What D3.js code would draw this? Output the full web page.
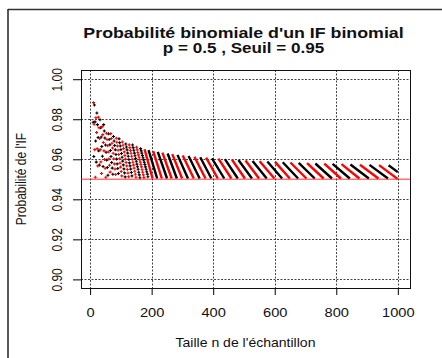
<!DOCTYPE html>
<html>
<head>
<meta charset="utf-8">
<script src="https://cdn.jsdelivr.net/npm/d3@7"></script>
<style>
  body { margin: 0; background: #fff; }
  text { font-family: "Liberation Sans", Arial, sans-serif; fill: #111; }
</style>
</head>
<body>
<svg id="chart"></svg>
<script>
// Data
// odd n (red points), starting at n = 11, step 2
const redFirstN = 11;
const redP = [
  .9883, .9775, .9648, .9510, .9808, .9734, .9653, .9567, .9810, .9758,
  .9704, .9648, .9587, .9529, .9763, .9723, .9684, .9642, .9599, .9555,
  .9510, .9730, .9699, .9668, .9636, .9602, .9570, .9536, .9728, .9704,
  .9680, .9656, .9630, .9603, .9577, .9551, .9524, .9705, .9685, .9666,
  .9645, .9624, .9603, .9581, .9561, .9539, .9517, .9686, .9670, .9654,
  .9637, .9619, .9601, .9584, .9567, .9549, .9531, .9513, .9672, .9658,
  .9644, .9630, .9615, .9600, .9585, .9571, .9556, .9540, .9525, .9510,
  .9660, .9647, .9634, .9622, .9610, .9598, .9586, .9574, .9562, .9548,
  .9535, .9522, .9509
];
// even n (black points), starting at n = 10, step 2
const blackFirstN = 10;
const blackP = [
  .9785, .9614, .9871, .9787, .9691, .9586, .9831, .9773, .9709, .9642,
  .9571, .9798, .9757, .9711, .9664, .9615, .9564, .9773, .9741, .9706,
  .9671, .9635, .9596, .9559, .9520, .9727, .9699, .9672, .9644, .9614,
  .9584, .9556, .9525, .9714, .9691, .9669, .9647, .9624, .9601, .9577,
  .9554, .9529, .9702, .9683, .9666, .9648, .9629, .9610, .9591, .9572,
  .9552, .9532, .9512, .9676, .9661, .9647, .9631, .9615, .9599, .9582,
  .9567, .9551, .9534, .9517, .9671, .9658, .9645, .9631, .9618, .9604,
  .9590, .9576, .9563, .9550, .9535, .9522, .9508, .9653, .9642, .9631,
  .9619, .9608, .9597, .9585, .9574, .9562, .9550, .9538, .9526, .9513
];

// dense part: each colour forms slanted bands (first n, last n, top, bottom)
const redBandStart = [177, 205, 235, 267, 301, 339, 377, 417, 461, 505, 551, 601, 651, 705, 761, 817, 877, 939];
const redBandEnd   = [203, 233, 265, 299, 337, 375, 415, 459, 503, 549, 599, 649, 703, 759, 815, 875, 937, 999];
const redBandTop   = [.9650, .9641, .9633, .9626, .9619, .9613, .9608, .9603, .9598, .9594, .9590, .9587, .9584, .9581, .9578, .9576, .9573, .9571];
const redBandLow   = [.9504, .9504, .9504, .9504, .9504, .9504, .9504, .9504, .9504, .9504, .9504, .9504, .9504, .9504, .9504, .9504, .9504, .9502];

const blackBandStart = [190, 220, 252, 284, 320, 358, 396, 438, 482, 528, 576, 626, 678, 732, 788, 846, 908, 970];
const blackBandEnd   = [218, 250, 282, 318, 356, 394, 436, 480, 526, 574, 624, 676, 730, 786, 844, 906, 968, 1000];
const blackBandTop   = [.9646, .9637, .9629, .9622, .9616, .9610, .9605, .9601, .9596, .9592, .9589, .9585, .9582, .9579, .9577, .9574, .9572, .9570];
const blackBandLow   = [.9504, .9504, .9504, .9504, .9504, .9504, .9504, .9504, .9504, .9504, .9504, .9504, .9504, .9504, .9504, .9504, .9504, .9536];

const seuil = 0.95;
const xTicks = [0, 200, 400, 600, 800, 1000];
const yTicks = [0.90, 0.92, 0.94, 0.96, 0.98, 1.00];

// Set up dimensions
const width = 442, height = 358;
const plotLeft = 81, plotRight = 410, plotTop = 70, plotBottom = 288;

const svg = d3.select("#chart")
    .attr("width", width)
    .attr("height", height);

svg.append("rect").attr("width", width).attr("height", height).attr("fill", "#fff");

// outer frame (only top and left visible)
svg.append("line").attr("x1", 8).attr("x2", width).attr("y1", 9.5).attr("y2", 9.5)
    .attr("stroke", "#333").attr("stroke-width", 1.5);
svg.append("line").attr("x1", 8).attr("x2", 8).attr("y1", 9).attr("y2", height)
    .attr("stroke", "#222").attr("stroke-width", 1.5);

const x = d3.scaleLinear().domain([-29.6, 1039.6]).range([plotLeft, plotRight]);
const y = d3.scaleLinear().domain([0.8957, 1.0046]).range([plotBottom, plotTop]);

// Grid
const grid = svg.append("g")
    .attr("stroke", "#444")
    .attr("stroke-width", 1)
    .attr("stroke-dasharray", "2,1.5");

grid.selectAll(".vg").data(xTicks).enter().append("line")
    .attr("x1", d => Math.round(x(d)) + 0.5).attr("x2", d => Math.round(x(d)) + 0.5)
    .attr("y1", plotTop).attr("y2", plotBottom);

grid.selectAll(".hg").data(yTicks).enter().append("line")
    .attr("y1", d => Math.round(y(d)) + 0.5).attr("y2", d => Math.round(y(d)) + 0.5)
    .attr("x1", plotLeft).attr("x2", plotRight);

// Axes
const xAxis = svg.append("g")
    .attr("transform", `translate(0,${plotBottom})`)
    .call(d3.axisBottom(x).tickValues(xTicks).tickSize(7).tickFormat(d3.format("d")));
xAxis.select(".domain").remove();
xAxis.selectAll("text")
    .attr("y", null).attr("dy", null)
    .attr("font-size", 12)
    .attr("transform", "translate(0,29) scale(1.22,1)");

const yAxis = svg.append("g")
    .attr("transform", `translate(${plotLeft},0)`)
    .call(d3.axisLeft(y).tickValues(yTicks).tickSize(8).tickFormat(d3.format(".2f")));
yAxis.select(".domain").remove();
yAxis.selectAll("text")
    .attr("x", null).attr("dy", null)
    .attr("text-anchor", "middle")
    .attr("font-size", 12)
    .attr("transform", "translate(-19.5,0) scale(1.17,1) rotate(-90)");

// plot box
svg.append("rect")
    .attr("x", plotLeft + 0.5).attr("y", plotTop + 0.5)
    .attr("width", plotRight - plotLeft).attr("height", plotBottom - plotTop)
    .attr("fill", "none").attr("stroke", "#111");

// Bands (dense region)
function drawBands(starts, ends, tops, lows, color) {
    svg.append("g").selectAll("line")
        .data(starts.map((s, i) => ({ s, e: ends[i], t: tops[i], l: lows[i] })))
        .enter().append("line")
        .attr("x1", d => x(d.s)).attr("y1", d => y(d.t))
        .attr("x2", d => x(d.e)).attr("y2", d => y(d.l))
        .attr("stroke", color)
        .attr("stroke-width", 2.4);
}
drawBands(blackBandStart, blackBandEnd, blackBandTop, blackBandLow, "#000");
drawBands(redBandStart, redBandEnd, redBandTop, redBandLow, "#ff0000");

// Points (sparse region), drawn as "+"
const plus = "M-1.5,0H1.5M0,-1.5V1.5";
function drawPoints(firstN, values, color) {
    svg.append("g").selectAll("path")
        .data(values.map((p, i) => ({ n: firstN + 2 * i, p })))
        .enter().append("path")
        .attr("d", plus)
        .attr("transform", d => `translate(${x(d.n)},${y(d.p)})`)
        .attr("stroke", color)
        .attr("stroke-width", 1.1)
        .attr("fill", "none");
}
drawPoints(blackFirstN, blackP, "#000");
drawPoints(redFirstN, redP, "#ff0000");

// threshold line
svg.append("line")
    .attr("x1", plotLeft).attr("x2", plotRight)
    .attr("y1", y(seuil)).attr("y2", y(seuil))
    .attr("stroke", "#ff0000").attr("stroke-opacity", 0.55)
    .attr("stroke-width", 1.5);

// Titles
const cx = (plotLeft + plotRight) / 2;
svg.append("text")
    .attr("transform", `translate(${cx - 2},37.5) scale(1.27,1)`)
    .attr("text-anchor", "middle").attr("font-size", 14).attr("font-weight", "bold")
    .text("Probabilité binomiale d'un IF binomial");
svg.append("text")
    .attr("transform", `translate(${cx - 2},52.5) scale(1.22,1)`)
    .attr("text-anchor", "middle").attr("font-size", 14).attr("font-weight", "bold")
    .text("p = 0.5 , Seuil = 0.95");

svg.append("text")
    .attr("transform", `translate(${cx},346.5) scale(1.17,1)`)
    .attr("text-anchor", "middle").attr("font-size", 12)
    .text("Taille n de l'échantillon");

svg.append("text")
    .attr("transform", `translate(26,${(plotTop + plotBottom) / 2}) scale(1.17,1) rotate(-90)`)
    .attr("text-anchor", "middle").attr("font-size", 12)
    .text("Probabilité de l'IF");
</script>
</body>
</html>
